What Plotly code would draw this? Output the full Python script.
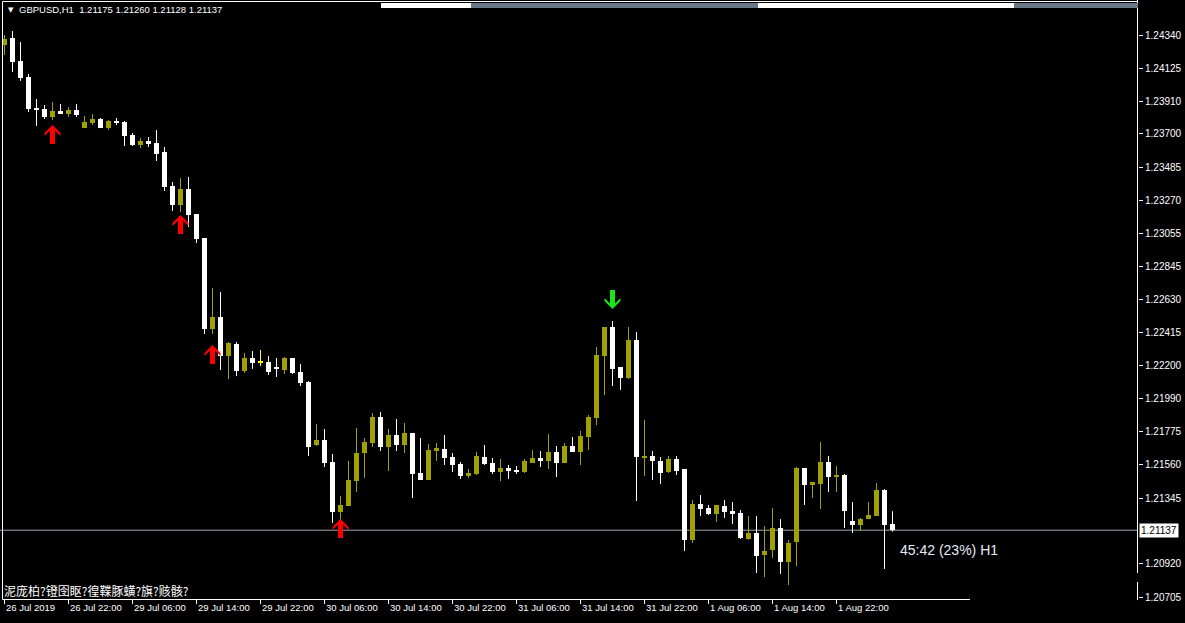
import plotly.graph_objects as go

# ---------------- data (GBPUSD H1, 26 Jul 2019 14:00 -> 2 Aug 2019 05:00) ----------------
open_ = [1.24275, 1.24321, 1.24172, 1.24068, 1.23868, 1.23861, 1.23810, 1.23849, 1.23829, 1.23855,
         1.23739, 1.23771, 1.23797, 1.23739, 1.23784, 1.23777, 1.23693, 1.23629, 1.23654, 1.23642,
         1.23583, 1.23363, 1.23240, 1.23344, 1.23182, 1.23027, 1.22438, 1.22516, 1.22264, 1.22341,
         1.22167, 1.22251, 1.22225, 1.22225, 1.22186, 1.22173, 1.22251, 1.22160, 1.22096, 1.21688,
         1.21721, 1.21578, 1.21255, 1.21294, 1.21455, 1.21636, 1.21701, 1.21869, 1.21675, 1.21753,
         1.21688, 1.21766, 1.21507, 1.21462, 1.21649, 1.21662, 1.21610, 1.21565, 1.21488, 1.21501,
         1.21610, 1.21572, 1.21513, 1.21539, 1.21526, 1.21513, 1.21572, 1.21604, 1.21585, 1.21643,
         1.21572, 1.21682, 1.21643, 1.21740, 1.21863, 1.22264, 1.22451, 1.22193, 1.22121, 1.22367,
         1.21604, 1.21617, 1.21585, 1.21513, 1.21598, 1.21533, 1.21074, 1.21306, 1.21281, 1.21242,
         1.21294, 1.21261, 1.21248, 1.21080, 1.21119, 1.20977, 1.21009, 1.21151, 1.20931, 1.21061,
         1.21539, 1.21429, 1.21436, 1.21578, 1.21481, 1.21494, 1.21197, 1.21171, 1.21209, 1.21229,
         1.21397, 1.21175]
high = [1.24340, 1.24366, 1.24295, 1.24088, 1.23926, 1.23887, 1.23907, 1.23894, 1.23874, 1.23894,
        1.23816, 1.23829, 1.23803, 1.23790, 1.23803, 1.23784, 1.23706, 1.23674, 1.23680, 1.23726,
        1.23616, 1.23389, 1.23415, 1.23422, 1.23182, 1.23027, 1.22704, 1.22678, 1.22354, 1.22354,
        1.22283, 1.22296, 1.22303, 1.22264, 1.22251, 1.22257, 1.22251, 1.22212, 1.22102, 1.21824,
        1.21792, 1.21630, 1.21358, 1.21585, 1.21798, 1.21733, 1.21895, 1.21902, 1.21792, 1.21856,
        1.21830, 1.21766, 1.21733, 1.21695, 1.21701, 1.21753, 1.21636, 1.21578, 1.21533, 1.21643,
        1.21688, 1.21604, 1.21598, 1.21559, 1.21552, 1.21598, 1.21656, 1.21649, 1.21759, 1.21682,
        1.21701, 1.21740, 1.21779, 1.21882, 1.22322, 1.22451, 1.22490, 1.22193, 1.22451, 1.22419,
        1.21850, 1.21649, 1.21610, 1.21617, 1.21617, 1.21533, 1.21332, 1.21365, 1.21300, 1.21300,
        1.21332, 1.21319, 1.21268, 1.21229, 1.21229, 1.21164, 1.21281, 1.21209, 1.21074, 1.21546,
        1.21539, 1.21449, 1.21707, 1.21617, 1.21552, 1.21501, 1.21319, 1.21216, 1.21319, 1.21442,
        1.21403, 1.21260]
low = [1.24211, 1.24101, 1.24043, 1.23842, 1.23751, 1.23797, 1.23790, 1.23829, 1.23810, 1.23810,
       1.23739, 1.23758, 1.23739, 1.23726, 1.23758, 1.23622, 1.23622, 1.23609, 1.23616, 1.23525,
       1.23331, 1.23202, 1.23195, 1.23098, 1.22995, 1.22406, 1.22406, 1.22173, 1.22115, 1.22134,
       1.22154, 1.22180, 1.22199, 1.22141, 1.22128, 1.22147, 1.22147, 1.22070, 1.21617, 1.21682,
       1.21546, 1.21184, 1.21203, 1.21294, 1.21384, 1.21475, 1.21675, 1.21649, 1.21520, 1.21649,
       1.21636, 1.21345, 1.21462, 1.21462, 1.21585, 1.21559, 1.21513, 1.21468, 1.21475, 1.21494,
       1.21559, 1.21501, 1.21455, 1.21468, 1.21501, 1.21507, 1.21572, 1.21546, 1.21533, 1.21481,
       1.21572, 1.21643, 1.21559, 1.21656, 1.21817, 1.22011, 1.22070, 1.22044, 1.22115, 1.21326,
       1.21488, 1.21462, 1.21436, 1.21507, 1.21494, 1.21002, 1.21054, 1.21229, 1.21235, 1.21190,
       1.21216, 1.21177, 1.21080, 1.21074, 1.20860, 1.20834, 1.20957, 1.20854, 1.20783, 1.20905,
       1.21300, 1.21345, 1.21274, 1.21384, 1.21384, 1.21151, 1.21119, 1.21132, 1.21209, 1.21229,
       1.20886, 1.21128]
close = [1.24314, 1.24165, 1.24062, 1.23861, 1.23855, 1.23810, 1.23849, 1.23829, 1.23855, 1.23823,
         1.23777, 1.23797, 1.23739, 1.23784, 1.23777, 1.23687, 1.23629, 1.23654, 1.23635, 1.23570,
         1.23357, 1.23240, 1.23344, 1.23176, 1.23021, 1.22438, 1.22516, 1.22264, 1.22348, 1.22167,
         1.22251, 1.22219, 1.22225, 1.22160, 1.22180, 1.22251, 1.22154, 1.22089, 1.21675, 1.21721,
         1.21572, 1.21255, 1.21300, 1.21462, 1.21636, 1.21707, 1.21869, 1.21675, 1.21753, 1.21688,
         1.21766, 1.21501, 1.21462, 1.21656, 1.21669, 1.21604, 1.21559, 1.21488, 1.21507, 1.21617,
         1.21565, 1.21513, 1.21539, 1.21520, 1.21513, 1.21585, 1.21604, 1.21585, 1.21643, 1.21572,
         1.21682, 1.21643, 1.21746, 1.21869, 1.22270, 1.22451, 1.22180, 1.22121, 1.22367, 1.21610,
         1.21617, 1.21585, 1.21507, 1.21598, 1.21520, 1.21074, 1.21306, 1.21274, 1.21242, 1.21300,
         1.21255, 1.21242, 1.21087, 1.21119, 1.20970, 1.21002, 1.21151, 1.20931, 1.21054, 1.21539,
         1.21429, 1.21449, 1.21578, 1.21481, 1.21494, 1.21261, 1.21171, 1.21209, 1.21235, 1.21397,
         1.21171, 1.21137]

time_tick_index = [0, 8, 16, 24, 32, 40, 48, 56, 64, 72, 80, 88, 96, 104]
time_tick_labels = ["26 Jul 2019", "26 Jul 22:00", "29 Jul 06:00", "29 Jul 14:00", "29 Jul 22:00",
                    "30 Jul 06:00", "30 Jul 14:00", "30 Jul 22:00", "31 Jul 06:00", "31 Jul 14:00",
                    "31 Jul 22:00", "1 Aug 06:00", "1 Aug 14:00", "1 Aug 22:00"]
price_ticks = [1.24340, 1.24125, 1.23910, 1.23700, 1.23485, 1.23270, 1.23055, 1.22845, 1.22630,
               1.22415, 1.22200, 1.21990, 1.21775, 1.21560, 1.21345, 1.20920, 1.20705]

up_arrow_index = [6, 22, 26, 42]
up_arrow_price = [1.23758, 1.23176, 1.22335, 1.21210]
down_arrow_index = [76]
down_arrow_price = [1.22568]

symbol_text = "GBPUSD,H1"
timer_text = "45:42 (23%) H1"
footer_text = "泥庞柏?镫囹眍?徨鞢豚蟥?旗?赅骸?"

# ---------------- layout constants ----------------
W, H = 1185, 623
ML, MR, MT, MB = 0, 47, 0, 24
PLOT_W, PLOT_H = W - ML - MR, H - MT - MB
BAR_PX = 8.0
FIRST_PX = 4.5
X_RANGE = [-FIRST_PX / BAR_PX, (PLOT_W - FIRST_PX) / BAR_PX]
Y_RANGE = [1.206921, 1.245664]
PX_PER_X = PLOT_W / (X_RANGE[1] - X_RANGE[0])
PRICE_PER_PX = (Y_RANGE[1] - Y_RANGE[0]) / PLOT_H

BULL = "#a0a000"
BEAR = "#ffffff"
DOJI = "#ffff00"
FONT = "Liberation Sans, Arial, sans-serif"


def px_x(px):
    return px / PLOT_W


def px_y(py):
    return 1 - py / PLOT_H


n = len(close)
idx = list(range(n))
groups = [
    ([i for i in idx if close[i] > open_[i]], BULL),
    ([i for i in idx if close[i] < open_[i]], BEAR),
    ([i for i in idx if close[i] == open_[i]], DOJI),
]

fig = go.Figure()
for members, col in groups:
    if not members:
        continue
    wx, wy = [], []
    for i in members:
        wx += [i, i, None]
        wy += [low[i], high[i], None]
    fig.add_trace(go.Scatter(x=wx, y=wy, mode="lines", line=dict(color=col, width=1),
                             hoverinfo="skip", showlegend=False))
for members, col in groups:
    if not members:
        continue
    base, hgt = [], []
    for i in members:
        h = abs(close[i] - open_[i])
        if h < PRICE_PER_PX:
            base.append(min(open_[i], close[i]) - (PRICE_PER_PX - h) / 2)
            hgt.append(PRICE_PER_PX)
        else:
            base.append(min(open_[i], close[i]))
            hgt.append(h)
    fig.add_trace(go.Bar(x=members, y=hgt, base=base, width=5 / BAR_PX,
                         marker=dict(color=col, line=dict(width=0)),
                         hoverinfo="skip", showlegend=False))

shapes = []
ARROW = [(0, 0), (8, 8), (8, 11), (2.5, 5.5), (2.5, 19), (-2.5, 19), (-2.5, 5.5), (-8, 11), (-8, 8)]


def arrow_path(xi, tip, direction):
    pts = []
    for dx, dy in ARROW:
        pts.append(f"{xi + dx / PX_PER_X:.4f},{tip - direction * dy * PRICE_PER_PX:.6f}")
    return "M" + " L".join(pts) + " Z"


for xi, p in zip(up_arrow_index, up_arrow_price):
    shapes.append(dict(type="path", path=arrow_path(xi, p, 1), xref="x", yref="y",
                       fillcolor="#ff0000", line=dict(width=0), layer="above"))
for xi, p in zip(down_arrow_index, down_arrow_price):
    shapes.append(dict(type="path", path=arrow_path(xi, p, -1), xref="x", yref="y",
                       fillcolor="#19e619", line=dict(width=0), layer="above"))

# current price line
shapes.append(dict(type="line", xref="paper", yref="y", x0=0, x1=1, y0=close[-1], y1=close[-1],
                   line=dict(color="#9aa5b1", width=1), layer="below"))


def seg(x0, y0, x1, y1, col="#ffffff", w=1):
    return dict(type="line", xref="paper", yref="paper", x0=px_x(x0), y0=px_y(y0), x1=px_x(x1),
                y1=px_y(y1), line=dict(color=col, width=w))


# window frame
shapes += [
    seg(2.5, 1.5, PLOT_W, 1.5),
    seg(2.5, 1.5, 2.5, 599.5),
    seg(2.5, 599.5, 970, 599.5),
    seg(PLOT_W - 0.5, 0, PLOT_W - 0.5, 573),
    seg(PLOT_W - 0.5, 582, PLOT_W - 0.5, 600),
]
# top bar
for x0, x1, col in [(381, 471, "#ffffff"), (471, 758, "#697686"), (758, 1014, "#ffffff"),
                    (1014, 1138, "#697686")]:
    shapes.append(dict(type="rect", xref="paper", yref="paper", x0=px_x(x0), x1=px_x(x1),
                       y0=px_y(8), y1=px_y(3), fillcolor=col, line=dict(width=0)))

annotations = []
for k, lab in zip(time_tick_index, time_tick_labels):
    annotations.append(dict(x=k, y=0, xref="x", yref="paper", text=lab, showarrow=False,
                            xanchor="left", yanchor="top", yshift=-1, xshift=-1,
                            font=dict(color="white", size=9.5, family=FONT)))
header = symbol_text + "  " + " ".join(f"{v:.5f}" for v in (open_[-1], high[-1], low[-1], close[-1]))
annotations.append(dict(x=px_x(17), y=px_y(9.5), xref="paper", yref="paper", text=header,
                        showarrow=False, xanchor="left", yanchor="middle",
                        font=dict(color="white", size=9.5, family=FONT)))
annotations.append(dict(x=px_x(6), y=px_y(9.5), xref="paper", yref="paper", text="▼",
                        showarrow=False, xanchor="left", yanchor="middle",
                        font=dict(color="white", size=7, family="DejaVu Sans")))
annotations.append(dict(x=1, y=close[-1], xref="paper", yref="y", text=f"{close[-1]:.5f}",
                        showarrow=False, xanchor="left", yanchor="middle", xshift=1,
                        bgcolor="white", borderpad=1,
                        font=dict(color="black", size=10, family=FONT)))
annotations.append(dict(x=px_x(898), y=px_y(550), xref="paper", yref="paper", text=timer_text,
                        showarrow=False, xanchor="left", yanchor="middle",
                        font=dict(color="#e4ecf6", size=14, family="Liberation Sans, Arial")))
annotations.append(dict(x=px_x(2), y=px_y(590), xref="paper", yref="paper", text=footer_text,
                        showarrow=False, xanchor="left", yanchor="middle",
                        font=dict(color="white", size=12, family="Noto Sans CJK SC")))

fig.update_layout(
    width=W, height=H,
    margin=dict(l=ML, r=MR, t=MT, b=MB, pad=0),
    paper_bgcolor="black", plot_bgcolor="black",
    barmode="overlay", bargap=0,
    showlegend=False,
    xaxis=dict(range=X_RANGE, tickvals=time_tick_index, showticklabels=False, ticks="outside",
               ticklen=4, tickcolor="white", showgrid=False, zeroline=False, showline=False,
               fixedrange=True),
    yaxis=dict(range=Y_RANGE, side="right", tickvals=price_ticks,
               ticktext=[f"{v:.5f}" for v in price_ticks], ticks="outside", ticklen=4,
               tickcolor="white", tickfont=dict(color="white", size=10, family=FONT),
               showgrid=False, zeroline=False, showline=False, fixedrange=True),
    shapes=shapes,
    annotations=annotations,
)

fig.write_html(
    "out.html",
    config={"displayModeBar": False},
    post_script="document.body.style.margin='0';document.body.style.overflow='hidden';"
                "document.body.style.background='black';",
)
